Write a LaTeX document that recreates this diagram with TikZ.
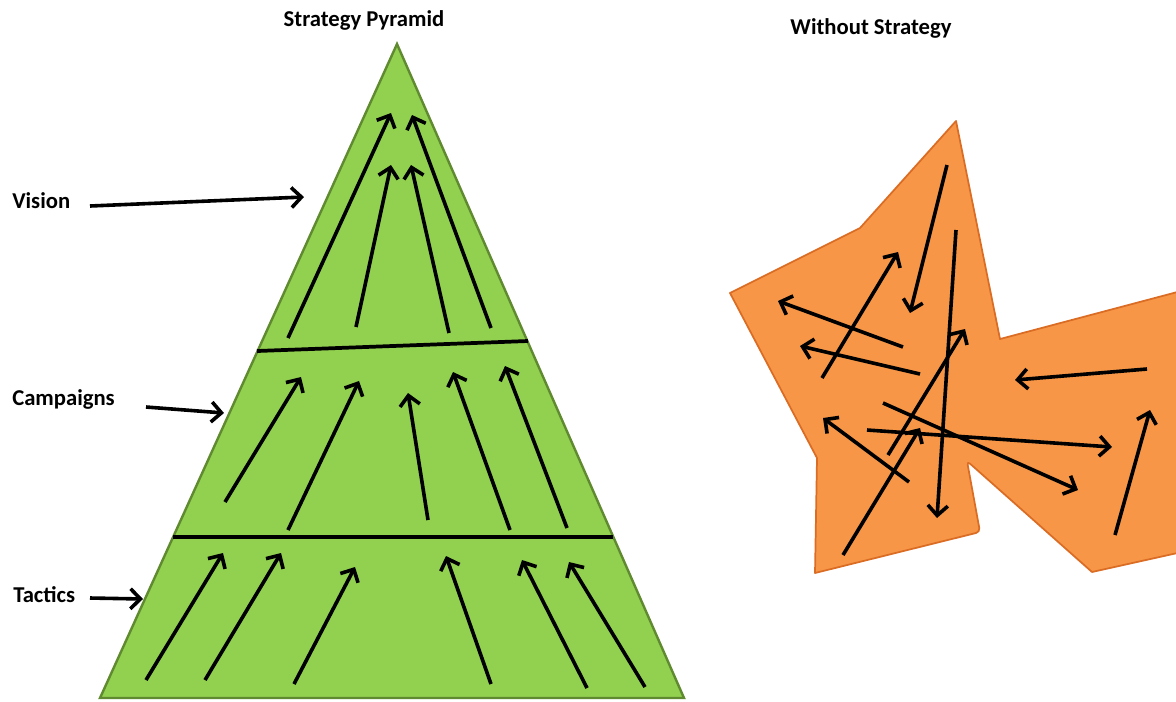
\documentclass[tikz,border=0pt]{standalone}
\usepackage{fontspec}
\setmainfont{Carlito}
\usetikzlibrary{arrows.meta}
\definecolor{pgreen}{RGB}{146,208,80}
\definecolor{pgreenedge}{RGB}{96,138,48}
\definecolor{porange}{RGB}{247,150,70}
\definecolor{porangeedge}{RGB}{218,108,36}
\tikzset{
  lbl/.style={font=\bfseries\fontsize{17}{20}\selectfont, inner sep=0pt},
  arr/.style={line width=2.7pt, -{Straight Barb[length=7.5pt,width=15pt]}},
  divider/.style={line width=2.8pt},
}
\begin{document}
\begin{tikzpicture}[x=0.75pt,y=-0.75pt]
\useasboundingbox (0,0) rectangle (1176,701);

% titles
\node[lbl, anchor=base] (t1) at (364,26) {Strategy Pyramid};
\node[lbl, anchor=base] (t2) at (871,34) {Without Strategy};

% pyramid
\coordinate (apex) at (397,44);
\coordinate (bl) at (100,698);
\coordinate (br) at (684,698);
\path[draw=pgreenedge, line width=1.8pt, fill=pgreen, line join=miter] (apex) -- (br) -- (bl) -- cycle;
\coordinate (d1l) at (257,351);
\coordinate (d1r) at (528,341);
\coordinate (d2l) at (173,537);
\coordinate (d2r) at (613,537);
\draw[divider] (d1l) -- (d1r);
\draw[divider] (d2l) -- (d2r);

% level labels
\node[lbl, anchor=base west] (vision) at (12,208) {Vision};
\node[lbl, anchor=base west] (camp) at (12,405) {Campaigns};
\node[lbl, anchor=base west] (tact) at (13,602) {Tactics};
\coordinate (v1) at (90,206);  \coordinate (v2) at (304,197);
\coordinate (c1) at (146,407); \coordinate (c2) at (224,413);
\coordinate (a1) at (90,598);  \coordinate (a2) at (143,599);
\draw[arr] (v1) -- (v2);
\draw[arr] (c1) -- (c2);
\draw[arr] (a1) -- (a2);

% pyramid arrows
\foreach \i/\sx/\sy/\ex/\ey in {
  1/288/338/391/113, 2/356/327/391/165, 3/449/333/411/165, 4/491/328/412/115,
  5/225/502/301/377, 6/288/530/359/381, 7/428/520/408/393, 8/510/530/453/372, 9/567/528/505/366,
  10/146/680/223/553, 11/205/680/281/553, 12/294/684/355/567, 13/491/684/446/556, 14/587/688/522/560, 15/645/687/569/562}{
  \coordinate (ps\i) at (\sx,\sy);
  \coordinate (pe\i) at (\ex,\ey);
  \draw[arr] (ps\i) -- (pe\i);
}

% chaotic shape
\begin{scope}
\clip (0,0) rectangle (1176,701);
\path[draw=porangeedge, line width=1.3pt, fill=porange, line join=round]
  (956,121) -- (1000,339) -- (1200,286) -- (1200,548) -- (1092,572)
  [rounded corners=3pt] -- (967,461) -- (980,532) [sharp corners] -- (815,573)
  -- (817,458) -- (730,293) -- (860,228) -- cycle;
\end{scope}

\foreach \i/\sx/\sy/\ex/\ey in {
  1/947/165/910/313, 2/956/230/937/518, 3/822/378/898/252, 4/903/347/778/301,
  5/920/374/800/346, 6/888/455/965/329, 7/843/555/920/428, 8/909/482/823/418,
  9/867/430/1112/447, 10/883/403/1078/490, 11/1147/369/1015/380, 12/1115/535/1150/410}{
  \coordinate (os\i) at (\sx,\sy);
  \coordinate (oe\i) at (\ex,\ey);
  \draw[arr] (os\i) -- (oe\i);
}
\end{tikzpicture}
\end{document}
